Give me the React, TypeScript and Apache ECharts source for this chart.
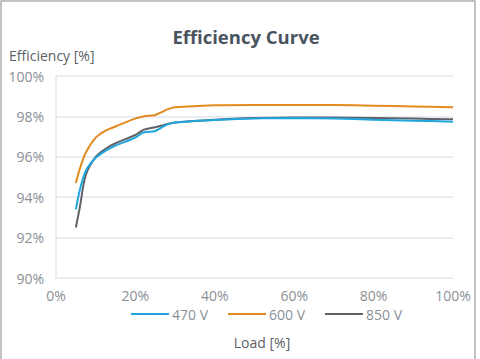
import React, { useEffect, useRef } from "react";
import * as echarts from "echarts";

const loads = [5, 6, 7.5, 10, 12.5, 15, 20, 22, 25, 27, 28, 30, 40, 50, 60, 70, 80, 90, 100];
const eff470 = [93.4, 94.35, 95.3, 95.95, 96.3, 96.55, 96.95, 97.2, 97.28, 97.5, 97.6, 97.7, 97.82, 97.9, 97.92, 97.9, 97.84, 97.79, 97.74];
const eff600 = [94.7, 95.4, 96.2, 96.95, 97.3, 97.5, 97.9, 98.0, 98.07, 98.25, 98.35, 98.45, 98.55, 98.57, 98.57, 98.56, 98.53, 98.49, 98.45];
const eff850 = [92.5, 93.5, 95.1, 96.0, 96.4, 96.67, 97.08, 97.33, 97.46, 97.56, 97.62, 97.7, 97.84, 97.92, 97.95, 97.94, 97.92, 97.89, 97.86];
const seriesNames = ["470 V", "600 V", "850 V"];
const colors = ["#1fa6dc", "#e18a1f", "#5f6268"];

export default function App() {
  const ref = useRef<HTMLDivElement>(null);
  useEffect(() => {
    const chart = echarts.init(ref.current!, undefined, { renderer: "svg" });
    const data = [eff470, eff600, eff850];
    chart.setOption({
      animation: false,
      backgroundColor: "#ffffff",
      title: {
        text: "Efficiency Curve",
        left: 241,
        textAlign: "center",
        top: 22,
        textStyle: { fontFamily: "Open Sans", fontSize: 18.5, fontWeight: "bold", color: "#4a5461" },
      },
      graphic: [
        {
          type: "rect",
          shape: { x: 1, y: 1, width: 474, height: 362 },
          style: { fill: "none", stroke: "#b0b0b0", lineWidth: 1.5 },
        },
        {
          type: "text",
          left: 9,
          top: 48,
          style: { text: "Efficiency [%]", fontFamily: "Open Sans", fontSize: 14, fill: "#5a5f66" },
        },
      ],
      legend: {
        data: seriesNames,
        left: 126,
        top: 302,
        itemWidth: 38,
        itemHeight: 14,
        itemGap: 20,
        icon: "path://M0,6 L38,6 L38,8 L0,8 Z",
        textStyle: { fontFamily: "Open Sans", fontSize: 14, color: "#8a8f96", padding: [0, 0, 0, -2] },
      },
      grid: { left: 56, right: 27, top: 76, bottom: 81 },
      xAxis: {
        type: "value",
        min: 0,
        max: 100,
        interval: 20,
        name: "Load [%]",
        nameLocation: "middle",
        nameGap: 57,
        nameTextStyle: { fontFamily: "Open Sans", fontSize: 14, color: "#5a5f66", padding: [0, 0, 0, 15] },
        axisLine: { show: false },
        axisTick: { show: false },
        splitLine: { show: false },
        axisLabel: { formatter: "{value}%", fontFamily: "Open Sans", fontSize: 14, color: "#8a8f96", margin: 10 },
      },
      yAxis: {
        type: "value",
        min: 90,
        max: 100,
        interval: 2,
        axisLine: { show: true, lineStyle: { color: "#e3e6ee", width: 1.5 } },
        axisTick: { show: false },
        splitLine: { show: true, lineStyle: { color: "#e3e6ee", width: 1.5 } },
        axisLabel: { formatter: "{value}%", fontFamily: "Open Sans", fontSize: 14, color: "#8a8f96", margin: 12 },
      },
      series: seriesNames.map((n, i) => ({
        name: n,
        type: "line",
        smooth: 0.3,
        showSymbol: false,
        symbol: "none",
        color: colors[i],
        lineStyle: { width: 2, color: colors[i] },
        data: loads.map((x, j) => [x, data[i][j]]),
        z: i === 0 ? 3 : 2,
      })),
    });
    return () => chart.dispose();
  }, []);
  return <div ref={ref} style={{ position: "fixed", left: 0, top: 0, width: 480, height: 359 }} />;
}
